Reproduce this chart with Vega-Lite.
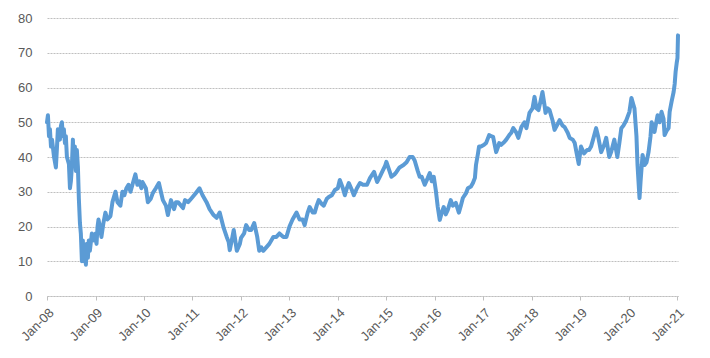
{
  "$schema": "https://vega.github.io/schema/vega-lite/v6.json",
  "width": 631,
  "height": 278,
  "autosize": {"type": "none"},
  "padding": {"left": 47, "top": 18, "right": 32, "bottom": 62},
  "background": "white",
  "view": {"stroke": null},
  "data": {"values": [
    {"date": "2008-01-01", "v": 50}, {"date": "2008-01-08", "v": 52}, {"date": "2008-01-16", "v": 46}, {"date": "2008-01-23", "v": 48},
    {"date": "2008-01-31", "v": 43}, {"date": "2008-02-08", "v": 45}, {"date": "2008-02-23", "v": 40}, {"date": "2008-03-08", "v": 37},
    {"date": "2008-03-15", "v": 42}, {"date": "2008-03-23", "v": 48}, {"date": "2008-04-07", "v": 45}, {"date": "2008-04-15", "v": 49},
    {"date": "2008-04-22", "v": 50}, {"date": "2008-04-30", "v": 46}, {"date": "2008-05-07", "v": 48}, {"date": "2008-05-15", "v": 44},
    {"date": "2008-05-22", "v": 46}, {"date": "2008-05-30", "v": 40}, {"date": "2008-06-14", "v": 38}, {"date": "2008-06-22", "v": 31},
    {"date": "2008-06-29", "v": 33}, {"date": "2008-07-06", "v": 37}, {"date": "2008-07-14", "v": 45}, {"date": "2008-07-21", "v": 38},
    {"date": "2008-07-29", "v": 43}, {"date": "2008-08-06", "v": 36}, {"date": "2008-08-13", "v": 42}, {"date": "2008-08-21", "v": 37},
    {"date": "2008-08-28", "v": 28}, {"date": "2008-09-05", "v": 21}, {"date": "2008-09-12", "v": 18}, {"date": "2008-09-20", "v": 10},
    {"date": "2008-09-27", "v": 16}, {"date": "2008-10-05", "v": 10}, {"date": "2008-10-12", "v": 14}, {"date": "2008-10-20", "v": 9},
    {"date": "2008-10-27", "v": 15}, {"date": "2008-11-04", "v": 11}, {"date": "2008-11-11", "v": 16}, {"date": "2008-11-19", "v": 13},
    {"date": "2008-12-04", "v": 18}, {"date": "2008-12-20", "v": 16}, {"date": "2009-01-01", "v": 18}, {"date": "2009-01-08", "v": 15},
    {"date": "2009-01-16", "v": 20}, {"date": "2009-01-23", "v": 22}, {"date": "2009-02-07", "v": 19}, {"date": "2009-02-14", "v": 17},
    {"date": "2009-03-01", "v": 21}, {"date": "2009-03-16", "v": 24}, {"date": "2009-03-31", "v": 22}, {"date": "2009-04-23", "v": 23},
    {"date": "2009-05-08", "v": 27}, {"date": "2009-05-31", "v": 30}, {"date": "2009-06-15", "v": 27}, {"date": "2009-07-07", "v": 26},
    {"date": "2009-07-22", "v": 30}, {"date": "2009-08-06", "v": 29}, {"date": "2009-08-21", "v": 31}, {"date": "2009-09-06", "v": 32},
    {"date": "2009-09-21", "v": 30}, {"date": "2009-10-13", "v": 33}, {"date": "2009-10-28", "v": 35}, {"date": "2009-11-12", "v": 32},
    {"date": "2009-11-27", "v": 33}, {"date": "2009-12-12", "v": 31}, {"date": "2009-12-20", "v": 32.8}, {"date": "2010-01-15", "v": 31},
    {"date": "2010-01-30", "v": 27}, {"date": "2010-02-21", "v": 28}, {"date": "2010-03-08", "v": 29.6}, {"date": "2010-03-31", "v": 31},
    {"date": "2010-04-23", "v": 32.5}, {"date": "2010-05-08", "v": 30}, {"date": "2010-05-23", "v": 27.6}, {"date": "2010-06-15", "v": 26},
    {"date": "2010-06-30", "v": 23.3}, {"date": "2010-07-23", "v": 27.6}, {"date": "2010-08-15", "v": 25}, {"date": "2010-08-30", "v": 27},
    {"date": "2010-09-14", "v": 27}, {"date": "2010-10-07", "v": 26}, {"date": "2010-10-22", "v": 25.3}, {"date": "2010-11-06", "v": 27.6},
    {"date": "2010-11-29", "v": 27}, {"date": "2010-12-22", "v": 28}, {"date": "2011-01-24", "v": 29.5}, {"date": "2011-02-23", "v": 31},
    {"date": "2011-03-18", "v": 29}, {"date": "2011-04-17", "v": 27}, {"date": "2011-05-10", "v": 25}, {"date": "2011-06-09", "v": 23.3},
    {"date": "2011-07-02", "v": 22.5}, {"date": "2011-07-25", "v": 24}, {"date": "2011-08-24", "v": 19.6}, {"date": "2011-09-16", "v": 17},
    {"date": "2011-10-01", "v": 15.5}, {"date": "2011-10-09", "v": 13.2}, {"date": "2011-10-24", "v": 16}, {"date": "2011-11-08", "v": 19},
    {"date": "2011-12-01", "v": 13}, {"date": "2011-12-24", "v": 15}, {"date": "2012-01-02", "v": 16.7}, {"date": "2012-01-25", "v": 18},
    {"date": "2012-02-09", "v": 20.4}, {"date": "2012-03-03", "v": 19}, {"date": "2012-03-18", "v": 19}, {"date": "2012-04-10", "v": 21},
    {"date": "2012-05-03", "v": 17}, {"date": "2012-05-18", "v": 13}, {"date": "2012-06-02", "v": 14}, {"date": "2012-06-17", "v": 13},
    {"date": "2012-07-10", "v": 14}, {"date": "2012-08-02", "v": 15}, {"date": "2012-09-01", "v": 17}, {"date": "2012-09-24", "v": 17},
    {"date": "2012-10-17", "v": 18}, {"date": "2012-11-16", "v": 17}, {"date": "2012-12-09", "v": 17}, {"date": "2013-01-01", "v": 20},
    {"date": "2013-01-24", "v": 22}, {"date": "2013-02-23", "v": 24}, {"date": "2013-03-18", "v": 22}, {"date": "2013-04-10", "v": 22},
    {"date": "2013-04-25", "v": 20.4}, {"date": "2013-05-18", "v": 24}, {"date": "2013-06-02", "v": 25.6}, {"date": "2013-06-25", "v": 24},
    {"date": "2013-07-10", "v": 24}, {"date": "2013-07-25", "v": 26}, {"date": "2013-08-09", "v": 27.6}, {"date": "2013-09-01", "v": 26.5},
    {"date": "2013-09-16", "v": 26}, {"date": "2013-10-09", "v": 28}, {"date": "2013-10-24", "v": 28.5}, {"date": "2013-11-16", "v": 29},
    {"date": "2013-12-09", "v": 30.5}, {"date": "2013-12-31", "v": 31}, {"date": "2014-01-15", "v": 33.4}, {"date": "2014-02-07", "v": 31},
    {"date": "2014-02-22", "v": 29}, {"date": "2014-03-09", "v": 31}, {"date": "2014-03-24", "v": 32.5}, {"date": "2014-04-16", "v": 30.5},
    {"date": "2014-05-01", "v": 29}, {"date": "2014-05-24", "v": 31}, {"date": "2014-06-16", "v": 32.5}, {"date": "2014-07-09", "v": 32},
    {"date": "2014-08-08", "v": 32}, {"date": "2014-08-31", "v": 34}, {"date": "2014-09-30", "v": 35.7}, {"date": "2014-10-23", "v": 32.8},
    {"date": "2014-11-15", "v": 34.5}, {"date": "2014-11-30", "v": 35.7}, {"date": "2014-12-23", "v": 37.5}, {"date": "2015-01-01", "v": 38.6},
    {"date": "2015-01-24", "v": 36}, {"date": "2015-02-08", "v": 34.3}, {"date": "2015-03-03", "v": 35}, {"date": "2015-03-18", "v": 35.7},
    {"date": "2015-04-10", "v": 37}, {"date": "2015-05-10", "v": 37.7}, {"date": "2015-06-02", "v": 38.5}, {"date": "2015-06-25", "v": 40},
    {"date": "2015-07-18", "v": 40}, {"date": "2015-08-02", "v": 39}, {"date": "2015-08-25", "v": 36}, {"date": "2015-09-09", "v": 34.3},
    {"date": "2015-09-24", "v": 34.3}, {"date": "2015-10-17", "v": 32}, {"date": "2015-11-09", "v": 34}, {"date": "2015-11-24", "v": 35.4},
    {"date": "2015-12-09", "v": 33}, {"date": "2015-12-24", "v": 34.3}, {"date": "2016-01-08", "v": 30.5}, {"date": "2016-01-23", "v": 25.6},
    {"date": "2016-02-07", "v": 21.9}, {"date": "2016-02-22", "v": 24}, {"date": "2016-03-08", "v": 25.6}, {"date": "2016-03-23", "v": 23.5},
    {"date": "2016-04-07", "v": 24.7}, {"date": "2016-04-30", "v": 27.6}, {"date": "2016-05-15", "v": 26}, {"date": "2016-06-07", "v": 26.8},
    {"date": "2016-06-30", "v": 24}, {"date": "2016-07-15", "v": 26}, {"date": "2016-07-30", "v": 28.2}, {"date": "2016-08-22", "v": 29.5},
    {"date": "2016-09-06", "v": 31}, {"date": "2016-09-29", "v": 31.5}, {"date": "2016-10-14", "v": 32.5}, {"date": "2016-10-29", "v": 34},
    {"date": "2016-11-06", "v": 37.7}, {"date": "2016-11-21", "v": 41}, {"date": "2016-11-29", "v": 43}, {"date": "2016-12-14", "v": 43},
    {"date": "2017-01-06", "v": 43.5}, {"date": "2017-01-21", "v": 44}, {"date": "2017-02-13", "v": 46.3}, {"date": "2017-02-28", "v": 46},
    {"date": "2017-03-15", "v": 45.8}, {"date": "2017-04-07", "v": 41.4}, {"date": "2017-04-22", "v": 43}, {"date": "2017-04-30", "v": 44},
    {"date": "2017-05-15", "v": 43.5}, {"date": "2017-06-07", "v": 44.3}, {"date": "2017-06-22", "v": 45}, {"date": "2017-07-15", "v": 46.3},
    {"date": "2017-07-30", "v": 47}, {"date": "2017-08-14", "v": 48.3}, {"date": "2017-09-06", "v": 47}, {"date": "2017-09-21", "v": 45.5},
    {"date": "2017-10-14", "v": 48.6}, {"date": "2017-11-06", "v": 50}, {"date": "2017-11-21", "v": 48.3}, {"date": "2017-12-14", "v": 52.7},
    {"date": "2018-01-06", "v": 54}, {"date": "2018-01-21", "v": 57.3}, {"date": "2018-02-05", "v": 54}, {"date": "2018-02-20", "v": 53.5},
    {"date": "2018-03-07", "v": 56}, {"date": "2018-03-22", "v": 58.7}, {"date": "2018-04-06", "v": 55}, {"date": "2018-04-14", "v": 52.7},
    {"date": "2018-04-29", "v": 54}, {"date": "2018-05-14", "v": 53.5}, {"date": "2018-06-06", "v": 50.5}, {"date": "2018-06-21", "v": 47.8},
    {"date": "2018-07-14", "v": 49.5}, {"date": "2018-07-29", "v": 50.6}, {"date": "2018-08-21", "v": 49}, {"date": "2018-09-05", "v": 48.6},
    {"date": "2018-09-28", "v": 47}, {"date": "2018-10-13", "v": 45.5}, {"date": "2018-11-05", "v": 45}, {"date": "2018-11-20", "v": 44},
    {"date": "2018-12-05", "v": 41}, {"date": "2018-12-20", "v": 38}, {"date": "2019-01-06", "v": 43}, {"date": "2019-01-29", "v": 41},
    {"date": "2019-02-21", "v": 42}, {"date": "2019-03-08", "v": 42}, {"date": "2019-03-23", "v": 43}, {"date": "2019-04-07", "v": 45},
    {"date": "2019-04-30", "v": 48.3}, {"date": "2019-05-15", "v": 46}, {"date": "2019-06-07", "v": 41.4}, {"date": "2019-06-30", "v": 43.5},
    {"date": "2019-07-15", "v": 45.5}, {"date": "2019-08-07", "v": 40}, {"date": "2019-08-22", "v": 41.5}, {"date": "2019-09-14", "v": 45},
    {"date": "2019-10-07", "v": 40}, {"date": "2019-10-22", "v": 44}, {"date": "2019-11-06", "v": 48.3}, {"date": "2019-11-21", "v": 49},
    {"date": "2019-12-14", "v": 50.6}, {"date": "2020-01-06", "v": 53}, {"date": "2020-01-21", "v": 57}, {"date": "2020-02-05", "v": 55},
    {"date": "2020-02-13", "v": 54}, {"date": "2020-02-28", "v": 46}, {"date": "2020-03-07", "v": 37.7}, {"date": "2020-03-22", "v": 28.2},
    {"date": "2020-03-30", "v": 33}, {"date": "2020-04-14", "v": 40.6}, {"date": "2020-04-29", "v": 37.7}, {"date": "2020-05-14", "v": 38.5},
    {"date": "2020-05-29", "v": 41.4}, {"date": "2020-06-13", "v": 46}, {"date": "2020-06-21", "v": 50}, {"date": "2020-07-06", "v": 48.5},
    {"date": "2020-07-13", "v": 47.2}, {"date": "2020-08-05", "v": 52}, {"date": "2020-08-20", "v": 50}, {"date": "2020-09-04", "v": 53},
    {"date": "2020-09-19", "v": 51}, {"date": "2020-09-27", "v": 46.3}, {"date": "2020-10-12", "v": 47.5}, {"date": "2020-10-27", "v": 48.3},
    {"date": "2020-11-04", "v": 53}, {"date": "2020-11-19", "v": 56}, {"date": "2020-12-04", "v": 58.7}, {"date": "2020-12-12", "v": 61},
    {"date": "2020-12-19", "v": 64.5}, {"date": "2020-12-27", "v": 67}, {"date": "2021-01-02", "v": 68.5}, {"date": "2021-01-06", "v": 75}
  ]},
  "mark": {"type": "line", "color": "#5B9BD5", "strokeWidth": 4, "strokeJoin": "round", "strokeCap": "round", "clip": false},
  "encoding": {
    "x": {
      "field": "date",
      "type": "temporal",
      "scale": {"domain": [{"year": 2008, "month": 1, "date": 1}, {"year": 2021, "month": 1, "date": 6}]},
      "axis": {
        "title": null,
        "format": "%b-%y",
        "tickCount": {"interval": "year", "step": 1},
        "labelAngle": -45,
        "labelFont": "Liberation Sans",
        "labelFontSize": 13,
        "labelColor": "#595959",
        "labelPadding": 6,
        "labelOverlap": false,
        "labelFlush": false,
        "domainColor": "#bfbfbf",
        "domainDash": [2, 1],
        "tickColor": "#bfbfbf",
        "tickSize": 4,
        "grid": false
      }
    },
    "y": {
      "field": "v",
      "type": "quantitative",
      "scale": {"domain": [0, 80], "nice": false, "zero": false},
      "axis": {
        "title": null,
        "values": [0, 10, 20, 30, 40, 50, 60, 70, 80],
        "domain": false,
        "ticks": false,
        "labelFont": "Liberation Sans",
        "labelFontSize": 13,
        "labelColor": "#595959",
        "labelPadding": 15,
        "grid": true,
        "gridColor": "#bfbfbf",
        "gridDash": [2, 1]
      }
    }
  }
}
